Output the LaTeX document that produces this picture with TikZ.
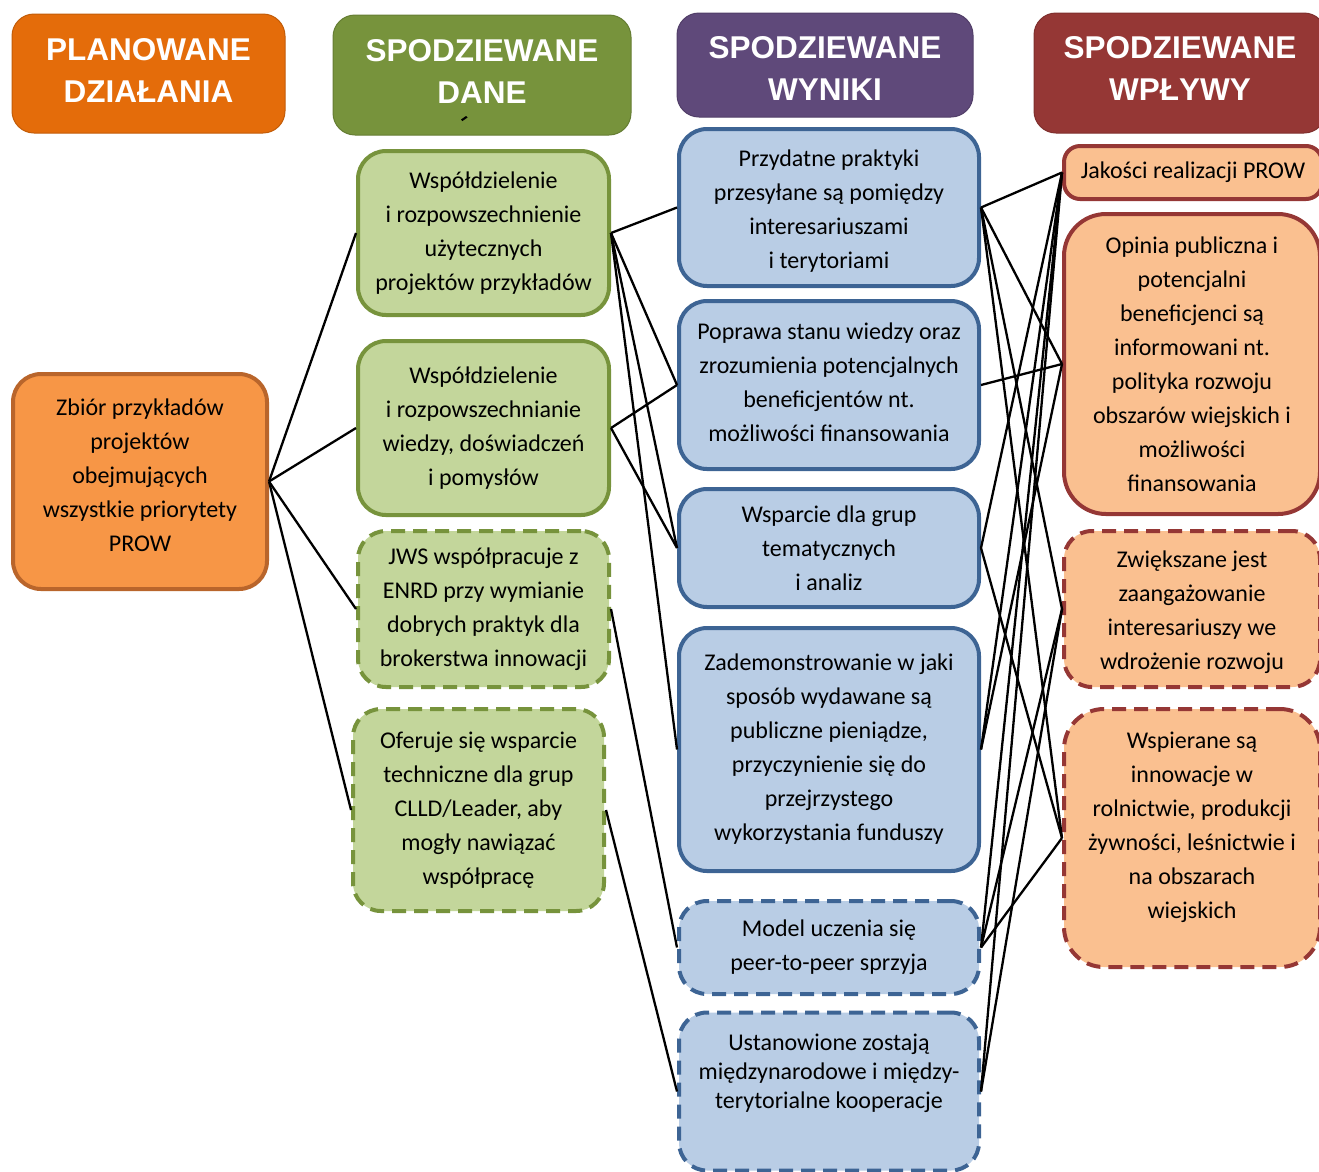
\documentclass[tikz,border=0pt]{standalone}
\usepackage{fontspec}
\setmainfont{Carlito}
\newfontfamily\headfont{Liberation Sans}
\definecolor{actfill}{HTML}{F79646}
\definecolor{actline}{HTML}{B9652B}
\definecolor{hdorange}{HTML}{E46C0A}
\definecolor{hdgreen}{HTML}{77933C}
\definecolor{hdpurple}{HTML}{5F497A}
\definecolor{hdred}{HTML}{953735}
\definecolor{datafill}{HTML}{C3D69B}
\definecolor{dataline}{HTML}{77933C}
\definecolor{resfill}{HTML}{B9CDE5}
\definecolor{resline}{HTML}{3D6494}
\definecolor{impfill}{HTML}{FAC090}
\definecolor{impline}{HTML}{953735}
\tikzset{
  head/.style={rounded corners=22pt, line width=1pt, inner sep=0pt},
  headtext/.style={inner sep=0pt, align=center, text=white,
    font=\headfont\bfseries\fontsize{31.5}{42}\selectfont},
  box/.style={rounded corners=28pt, line width=4pt, inner sep=0pt, align=center,
    font=\fontsize{24}{34}\selectfont},
  actbox/.style={box, fill=actfill, draw=actline},
  databox/.style={box, fill=datafill, draw=dataline},
  resbox/.style={box, fill=resfill, draw=resline},
  impbox/.style={box, fill=impfill, draw=impline},
  planned/.style={dash pattern=on 14pt off 8pt},
  link/.style={line width=2.3pt, black},
}
\begin{document}
\begin{tikzpicture}[x=1pt,y=-1pt]
\useasboundingbox (0,0) rectangle (1319,1171);
\clip (0,0) rectangle (1319,1171);

% column headers
\node[head, fill=hdorange, draw=hdorange!85!black, minimum width=273pt, minimum height=119pt] (h1) at (148.5,73.5) {};
\node[headtext] (h1t) at (148.5,70.5) {PLANOWANE\\DZIAŁANIA};
\node[head, fill=hdgreen, draw=hdgreen!85!black, minimum width=298pt, minimum height=120pt] (h2) at (482,75) {};
\node[headtext] (h2t) at (482,71) {SPODZIEWANE\\DANE};
\node[head, fill=hdpurple, draw=hdpurple!85!black, minimum width=296pt, minimum height=104pt] (h3) at (825,65) {};
\node[headtext] (h3t) at (825,68) {SPODZIEWANE\\WYNIKI};
\node[head, fill=hdred, draw=hdred!85!black, minimum width=292pt, minimum height=120pt] (h4) at (1180,73) {};
\node[headtext] (h4t) at (1180,68) {SPODZIEWANE\\WPŁYWY};
\fill[black] (461,119.5) -- (466,116) -- (467.5,117.5) -- (462.5,121) -- cycle;

% planned activity
\node[actbox, minimum width=254pt, minimum height=215pt] (c) at (140,481.5) {};
\node[box, inner sep=0pt] (ct) at (140,475.5)
  {Zbiór przykładów\\projektów\\obejmujących\\wszystkie priorytety\\PROW};

% expected outputs
\node[databox, minimum width=251pt, minimum height=164pt] (a1) at (483.5,233)
  {Współdzielenie\\i rozpowszechnienie\\użytecznych\\projektów przykładów};
\node[databox, minimum width=251pt, minimum height=174pt] (a2) at (483.5,428)
  {Współdzielenie\\i rozpowszechnianie\\wiedzy, doświadczeń\\i pomysłów};
\node[databox, planned, minimum width=251pt, minimum height=156pt] (a3) at (483.5,609)
  {JWS współpracuje z\\ENRD przy wymianie\\dobrych praktyk dla\\brokerstwa innowacji};
\node[databox, planned, minimum width=251pt, minimum height=202pt] (a4) at (478.5,810)
  {Oferuje się wsparcie\\techniczne dla grup\\CLLD/Leader, aby\\mogły nawiązać\\współpracę};

% expected results
\node[resbox, minimum width=300pt, minimum height=157pt] (b1) at (829,207.5) {};
\node[box, draw=none] (b1t) at (829,211)
  {Przydatne praktyki\\przesyłane są pomiędzy\\interesariuszami\\i terytoriami};
\node[resbox, minimum width=300pt, minimum height=168pt] (b2) at (829,385) {};
\node[box, draw=none] (b2t) at (829,382)
  {Poprawa stanu wiedzy oraz\\zrozumienia potencjalnych\\beneficjentów nt.\\możliwości finansowania};
\node[resbox, minimum width=300pt, minimum height=118pt] (b3) at (829,548)
  {Wsparcie dla grup\\tematycznych\\i analiz};
\node[resbox, minimum width=300pt, minimum height=243pt] (b4) at (829,749.5)
  {Zademonstrowanie w jaki\\sposób wydawane są\\publiczne pieniądze,\\przyczynienie się do\\przejrzystego\\wykorzystania funduszy};
\node[resbox, planned, minimum width=300pt, minimum height=93pt] (b5) at (829,947.5)
  {Model uczenia się\\peer-to-peer sprzyja};
\node[resbox, planned, minimum width=300pt, minimum height=158pt] (b6) at (829,1091.5) {};
\node[font=\fontsize{24}{29}\selectfont, align=center, inner sep=0pt] (b6t) at (829,1073)
  {Ustanowione zostają\\międzynarodowe i między-\\terytorialne kooperacje};

% expected impacts
\node[impbox, rounded corners=16pt, minimum width=258pt, minimum height=53pt] (d1) at (1193,172.5)
  {Jakości realizacji PROW};
\node[impbox, rounded corners=42pt, minimum width=256pt, minimum height=300pt] (d2) at (1192,364)
  {Opinia publiczna i\\potencjalni\\beneficjenci są\\informowani nt.\\polityka rozwoju\\obszarów wiejskich i\\możliwości\\finansowania};
\node[impbox, planned, minimum width=256pt, minimum height=156pt] (d3) at (1192,609) {};
\node[box, draw=none] (d3t) at (1192,612)
  {Zwiększane jest\\zaangażowanie\\interesariuszy we\\wdrożenie rozwoju};
\node[impbox, planned, rounded corners=40pt, minimum width=256pt, minimum height=258pt] (d4) at (1192,838) {};
\node[box, draw=none] (d4t) at (1192,827)
  {Wspierane są\\innowacje w\\rolnictwie, produkcji\\żywności, leśnictwie i\\na obszarach\\wiejskich};

% activity -> outputs
\foreach \t in {a1,a2,a3,a4} \draw[link] (c.east) -- (\t.west);

% outputs -> results
\foreach \t in {b1,b2,b3,b4} \draw[link] (a1.east) -- (\t.west);
\foreach \t in {b2,b3} \draw[link] (a2.east) -- (\t.west);
\draw[link] (a3.east) -- (b5.west);
\draw[link] (a4.east) -- (b6.west);

% results -> impacts
\foreach \t in {d1,d2,d3,d4} \draw[link] (b1.east) -- (\t.west);
\draw[link] (b2.east) -- (d2.west);
\foreach \t in {d1,d4} \draw[link] (b3.east) -- (\t.west);
\foreach \t in {d1,d2} \draw[link] (b4.east) -- (\t.west);
\foreach \t in {d1,d3,d4} \draw[link] (b5.east) -- (\t.west);
\foreach \t in {d1,d3} \draw[link] (b6.east) -- (\t.west);
\end{tikzpicture}
\end{document}
